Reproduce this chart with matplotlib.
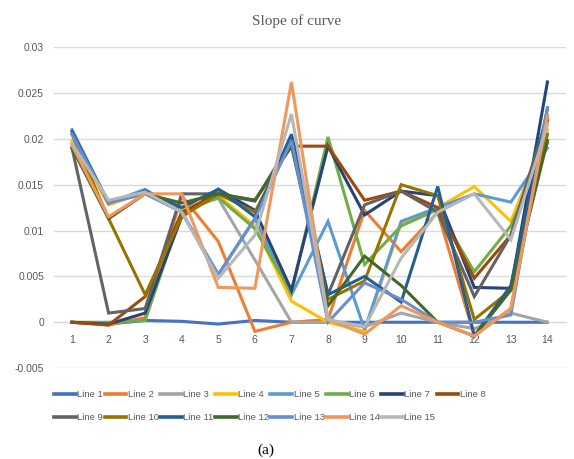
import matplotlib
matplotlib.use('Agg')
import matplotlib.pyplot as plt
from matplotlib.ticker import FixedLocator, FixedFormatter

# x categories and y ticks
steps = list(range(1, 15))
ytick_vals = [-0.005, 0, 0.005, 0.01, 0.015, 0.02, 0.025, 0.03]
ytick_text = ['-0.005', '0', '0.005', '0.01', '0.015', '0.02', '0.025', '0.03']

# slope values, one list per line (points 1..14)
line1 = [0, -0.0002, 0.0002, 0.0001, -0.0002, 0.0002, 0, 0, 0, 0, 0, 0, 0, 0]
line2 = [0, -0.0003, 0.0005, 0.0138, 0.0088, -0.001, 0, 0.0003, 0.0122, 0.0077, 0.012, -0.0015, 0.0015, 0.0222]
line3 = [0.0195, 0.0132, 0.014, 0.0125, 0.0135, 0.0068, 0, 0, -0.0005, 0.001, 0, -0.0007, 0.001, 0]
line4 = [0.0198, 0.0128, 0.0142, 0.0122, 0.0138, 0.0105, 0.0023, 0, -0.001, 0.0108, 0.0125, 0.0148, 0.011, 0.021]
line5 = [0.021, 0.013, 0.0145, 0.012, 0.0052, 0.0113, 0.003, 0.011, -0.0008, 0.011, 0.0125, 0.014, 0.0131, 0.019]
line6 = [0, 0, 0.0002, 0.012, 0.0136, 0.0102, 0.0032, 0.0202, 0.0063, 0.0105, 0.0123, 0.0055, 0.0105, 0.0195]
line7 = [0, -0.0002, 0.001, 0.0115, 0.0145, 0.0122, 0.0035, 0.0192, 0.0117, 0.0143, 0.0138, 0.0038, 0.0037, 0.0262]
line8 = [0, -0.0003, 0.0028, 0.012, 0.014, 0.0133, 0.0192, 0.0192, 0.0133, 0.0143, 0.0125, 0.0048, 0.0095, 0.022]
line9 = [0.019, 0.001, 0.0015, 0.014, 0.014, 0.0132, 0.0198, 0.003, 0.0128, 0.0143, 0.012, 0.0028, 0.0095, 0.0225]
line10 = [0.0205, 0.0113, 0.003, 0.0115, 0.014, 0.012, 0.0198, 0.0025, 0.0045, 0.015, 0.0138, 0.0003, 0.0035, 0.0205]
line11 = [0.0208, 0.013, 0.0143, 0.0125, 0.0145, 0.0115, 0.0205, 0.003, 0.005, 0.0022, 0.0148, -0.0015, 0.004, 0.0233]
line12 = [0.019, 0.0113, 0.014, 0.013, 0.014, 0.0133, 0.0192, 0.0018, 0.0072, 0.004, 0, -0.0015, 0.0035, 0.0198]
line13 = [0.0205, 0.013, 0.014, 0.012, 0.0052, 0.0113, 0.0198, 0, 0.0043, 0.0025, 0, 0, 0.0008, 0.0234]
line14 = [0.0193, 0.0115, 0.014, 0.014, 0.0038, 0.0037, 0.0262, 0.0003, -0.0013, 0.0018, 0, -0.0015, 0.0015, 0.0225]
line15 = [0.0195, 0.0133, 0.0142, 0.012, 0.0048, 0.0095, 0.0227, 0.0003, -0.0005, 0.007, 0.012, 0.014, 0.009, 0.0215]

series = [line1, line2, line3, line4, line5, line6, line7, line8,
          line9, line10, line11, line12, line13, line14, line15]
names = ['Line ' + str(i + 1) for i in range(len(series))]

# office default palette
colours = ['#4472C4', '#ED7D31', '#A5A5A5', '#FFC000', '#5B9BD5', '#70AD47',
           '#264478', '#9E480E', '#636363', '#997300', '#255E91', '#43682B',
           '#698ED0', '#F1975A', '#B7B7B7']

plt.rcParams['font.family'] = ['Liberation Sans', 'DejaVu Sans']

fig = plt.figure(figsize=(5.74, 4.59), dpi=100)
ax = fig.add_axes([0.0936, 0.198, 0.892, 0.6994])

handles = []
for vals, name, col in zip(series, names, colours):
    h, = ax.plot(steps, vals, color=col, linewidth=2.2, label=name,
                 solid_joinstyle='miter')
    handles.append(h)

ax.set_xlim(0.5, 14.5)
ax.set_ylim(-0.005, 0.03)
ax.yaxis.set_major_locator(FixedLocator(ytick_vals))
ax.yaxis.set_major_formatter(FixedFormatter(ytick_text))
ax.set_xticks(steps)
ax.set_xticklabels([str(s) for s in steps])
ax.grid(axis='y', color='#D9D9D9', linewidth=1.0)
ax.set_axisbelow(True)

for side in ['top', 'right', 'left']:
    ax.spines[side].set_visible(False)
ax.spines['bottom'].set_position(('data', 0))
ax.spines['bottom'].set_color('#D9D9D9')
ax.spines['bottom'].set_zorder(0.5)

ax.tick_params(axis='both', length=0, labelsize=7.5, labelcolor='#595959')
ax.tick_params(axis='y', pad=7)
ax.tick_params(axis='x', pad=9)

fig.text(0.516, 0.955, 'Slope of curve', family=['Liberation Serif', 'DejaVu Serif'],
         fontsize=11, color='#595959', ha='center', va='center')

# legend fills column by column, so reorder to read row by row (8 + 7)
order = []
for c in range(8):
    order.append(c)
    if c + 8 < len(handles):
        order.append(c + 8)
leg = fig.legend([handles[i] for i in order], [names[i] for i in order],
                 loc='upper left', bbox_to_anchor=(0.088, 0.158), ncol=8,
                 frameon=False, fontsize=6.8, handlelength=2.3,
                 handletextpad=0.15, columnspacing=0.14, labelspacing=1.5,
                 borderaxespad=0)
for t in leg.get_texts():
    t.set_color('#595959')
for h in leg.get_lines():
    h.set_linewidth(2.6)

fig.text(0.463, 0.019, '(a)', family=['Liberation Serif', 'DejaVu Serif'],
         fontsize=11, color='black', ha='center', va='center')

fig.savefig('out.png', dpi=100)
